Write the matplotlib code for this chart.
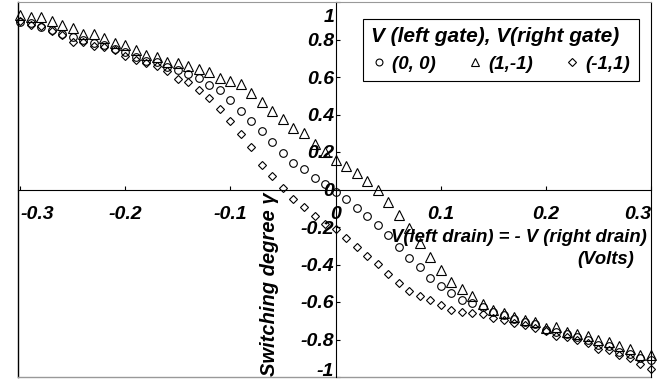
import matplotlib
matplotlib.use('Agg')
import matplotlib.pyplot as plt
from matplotlib.transforms import ScaledTranslation

# drain voltage, V(left drain) = -V(right drain)
volts = [-0.30, -0.29, -0.28, -0.27, -0.26, -0.25, -0.24, -0.23, -0.22, -0.21,
         -0.20, -0.19, -0.18, -0.17, -0.16, -0.15, -0.14, -0.13, -0.12, -0.11,
         -0.10, -0.09, -0.08, -0.07, -0.06, -0.05, -0.04, -0.03, -0.02, -0.01,
         0.00, 0.01, 0.02, 0.03, 0.04, 0.05, 0.06, 0.07, 0.08, 0.09,
         0.10, 0.11, 0.12, 0.13, 0.14, 0.15, 0.16, 0.17, 0.18, 0.19,
         0.20, 0.21, 0.22, 0.23, 0.24, 0.25, 0.26, 0.27, 0.28, 0.29, 0.30]

# gates (0, 0)
gamma_00 = [0.894, 0.889, 0.867, 0.853, 0.832, 0.814, 0.800, 0.779, 0.770, 0.748,
            0.734, 0.707, 0.684, 0.680, 0.654, 0.636, 0.615, 0.595, 0.556, 0.533,
            0.476, 0.419, 0.366, 0.311, 0.254, 0.197, 0.144, 0.107, 0.064, 0.028,
            -0.013, -0.048, -0.096, -0.141, -0.190, -0.244, -0.306, -0.363, -0.413, -0.471,
            -0.512, -0.553, -0.587, -0.605, -0.626, -0.653, -0.670, -0.688, -0.706, -0.715,
            -0.747, -0.760, -0.770, -0.786, -0.800, -0.830, -0.836, -0.866, -0.875, -0.900, -0.910]

# gates (1, -1)
gamma_1m1 = [0.930, 0.920, 0.920, 0.900, 0.880, 0.864, 0.832, 0.828, 0.810, 0.784,
             0.770, 0.743, 0.716, 0.707, 0.680, 0.677, 0.658, 0.645, 0.627, 0.597,
             0.580, 0.560, 0.513, 0.467, 0.420, 0.374, 0.327, 0.300, 0.245, 0.200,
             0.160, 0.127, 0.089, 0.046, 0.000, -0.069, -0.137, -0.203, -0.285, -0.360,
             -0.430, -0.492, -0.528, -0.569, -0.612, -0.640, -0.658, -0.680, -0.697, -0.706,
             -0.736, -0.731, -0.762, -0.768, -0.780, -0.805, -0.815, -0.836, -0.853, -0.882, -0.882]

# gates (-1, 1)
gamma_m11 = [0.900, 0.876, 0.871, 0.846, 0.823, 0.787, 0.787, 0.764, 0.760, 0.743,
             0.711, 0.693, 0.675, 0.658, 0.632, 0.592, 0.574, 0.533, 0.490, 0.428,
             0.366, 0.295, 0.227, 0.130, 0.070, 0.007, -0.053, -0.093, -0.142, -0.185,
             -0.210, -0.256, -0.309, -0.356, -0.398, -0.448, -0.501, -0.541, -0.569, -0.590,
             -0.617, -0.640, -0.653, -0.661, -0.665, -0.683, -0.697, -0.711, -0.720, -0.741,
             -0.756, -0.780, -0.786, -0.804, -0.820, -0.848, -0.857, -0.884, -0.900, -0.928, -0.958]

x_ticks = [-0.3, -0.2, -0.1, 0, 0.1, 0.2, 0.3]
x_labels = ['-0.3', '-0.2', '-0.1', '0', '0.1', '0.2', '0.3']
y_ticks = [-1, -0.8, -0.6, -0.4, -0.2, 0, 0.2, 0.4, 0.6, 0.8, 1]
y_labels = ['-1', '-0.8', '-0.6', '-0.4', '-0.2', '0', '0.2', '0.4', '0.6', '0.8', '1']

def bi(size):
    return dict(family='Liberation Sans', weight='bold', style='italic', size=size)

fig = plt.figure(figsize=(6.72, 3.84), dpi=100)
ax = fig.add_axes([18/672, 7/384, 633/672, 375/384])

mk = dict(linestyle='none', markerfacecolor='none', markeredgecolor='black',
          markeredgewidth=0.8, zorder=4, clip_on=False)
ax.plot(volts, gamma_00, marker='o', markersize=5.5, label='(0, 0)', **mk)
ax.plot(volts, gamma_1m1, marker='^', markersize=6.5, label='(1,-1)', **mk)
ax.plot(volts, gamma_m11, marker='D', markersize=4.5, label='(-1,1)', **mk)

ax.set_xlim(-0.302, 0.300)
ax.set_ylim(-1, 1)

# axes cross at zero, outer frame drawn separately
ax.spines['left'].set_position(('data', 0))
ax.spines['bottom'].set_position(('data', 0))
ax.spines['top'].set_color('#999999')
ax.spines['right'].set_color('black')
ax.plot([0, 0], [0, 1], transform=ax.transAxes, color='black', lw=1, clip_on=False)
ax.plot([0, 1], [0, 0], transform=ax.transAxes, color='#999999', lw=1, clip_on=False)

ax.set_xticks(x_ticks)
ax.set_xticklabels(x_labels, fontdict=bi(14))
ax.set_yticks(y_ticks)
ax.set_yticklabels(y_labels, fontdict=bi(14))
ax.tick_params(axis='x', direction='in', length=3, pad=12)
ax.tick_params(axis='y', direction='in', length=3, pad=1)

xl = ax.get_xticklabels()
xl[0].set_ha('left')
xl[-1].set_ha('right')
yl = ax.get_yticklabels()
yl[-1].set_transform(yl[-1].get_transform() + ScaledTranslation(0, -13/100, fig.dpi_scale_trans))
yl[0].set_transform(yl[0].get_transform() + ScaledTranslation(0, 7/100, fig.dpi_scale_trans))

ax.text(0.994, 0.371, 'V(left drain) = - V (right drain)', transform=ax.transAxes,
        ha='right', va='center', **bi(13.3))
ax.text(0.974, 0.312, '(Volts)', transform=ax.transAxes, ha='right', va='center', **bi(13.3))
ax.text(0.398, 0.004, 'Switching degree γ', transform=ax.transAxes, rotation=90,
        ha='center', va='bottom', **bi(14.5))

leg = ax.legend(loc='upper left', bbox_to_anchor=(0.545, 0.955), ncol=3,
                title='V (left gate), V(right gate)', alignment='left',
                prop=bi(13.5), title_fontproperties=bi(15),
                frameon=True, fancybox=False, edgecolor='black', framealpha=1,
                handlelength=0.8, handletextpad=0.3, columnspacing=1.7,
                borderpad=0.45, borderaxespad=0, markerscale=0.9)
leg.get_frame().set_linewidth(0.8)

plt.savefig('out.png', dpi=100)
